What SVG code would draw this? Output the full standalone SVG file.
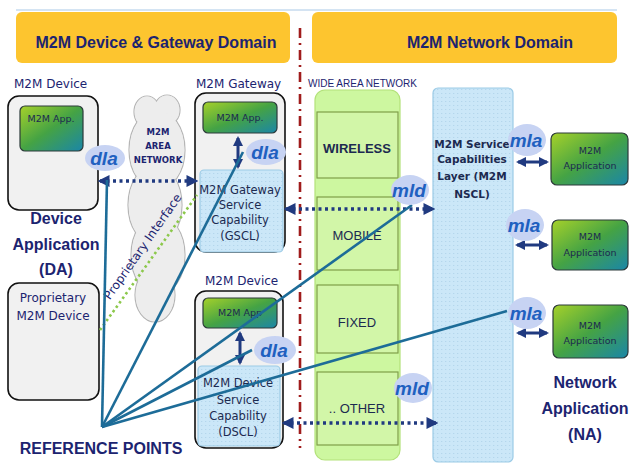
<svg xmlns="http://www.w3.org/2000/svg" width="629" height="463" viewBox="0 0 629 463">
<defs>
<style>
.hdr{fill:#fdc52f}
.ht{font-family:"Liberation Sans",Arial,sans-serif;font-weight:bold;font-size:16px;fill:#1c2470;text-anchor:middle}
.lbl{font-family:"DejaVu Sans",sans-serif;font-size:12px;fill:#1c2470}
.big{font-family:"Liberation Sans",Arial,sans-serif;font-weight:bold;font-size:16px;fill:#1c2470;text-anchor:middle}
.box{fill:#f1f1f1;stroke:#111;stroke-width:1.6}
.app{fill:url(#gApp);stroke:#2c3a3a;stroke-width:1.2}
.appt{font-family:"DejaVu Sans",sans-serif;font-size:9.5px;fill:#1c2a50;text-anchor:middle}
.sc{fill:url(#dots);stroke:#9ccbe6;stroke-width:1.2}
.sct{font-family:"DejaVu Sans",sans-serif;font-size:11.5px;fill:#1c2a50;text-anchor:middle}
.ell{fill:#c7d3f3}
.it{font-family:"Liberation Sans",Arial,sans-serif;font-style:italic;font-weight:bold;font-size:19px;fill:#2060c0;text-anchor:middle}
.wan{fill:#cdf7a0;stroke:#b3e27a;stroke-width:1.2}
.wb{fill:#d2f6a8;stroke:#7f9f48;stroke-width:1.2}
.wt{font-family:"Liberation Sans",Arial,sans-serif;font-size:13px;fill:#1c2a50;text-anchor:middle}
.dot{fill:none;stroke:#203a80;stroke-width:3.5;stroke-dasharray:3 3.5}
.ref{fill:none;stroke:#1d6c98;stroke-width:2.6}
.da{fill:none;stroke:#203a80;stroke-width:3}
</style>
<linearGradient id="gApp" x1="0" y1="0" x2="1" y2="1">
<stop offset="0" stop-color="#a6d12a"/>
<stop offset="0.5" stop-color="#45a344"/>
<stop offset="1" stop-color="#1a86a8"/>
</linearGradient>
<pattern id="dots" width="4" height="4" patternUnits="userSpaceOnUse">
<rect width="4" height="4" fill="#cbe7f8"/>
<rect x="1" y="1" width="1.3" height="1" fill="#b4d6ec"/>
</pattern>
<marker id="ah" viewBox="0 0 10 10" refX="8" refY="5" markerWidth="3.4" markerHeight="3.4" orient="auto-start-reverse" markerUnits="strokeWidth">
<path d="M0,0 L10,5 L0,10 Z" fill="#203a80"/>
</marker>
</defs>
<rect width="629" height="463" fill="#ffffff"/>
<line x1="16" y1="10" x2="617" y2="10" stroke="#a9c8e6" stroke-width="1"/>

<g id="hdr-left">
<rect class="hdr" x="16" y="12" width="274" height="51" rx="6"/>
<text class="ht" x="156" y="48">M2M Device &amp; Gateway Domain</text>
</g>
<g id="hdr-right">
<rect class="hdr" x="312" y="12" width="305" height="51" rx="6"/>
<text class="ht" x="490" y="48">M2M Network Domain</text>
</g>

<line id="divider" x1="300" y1="28" x2="300" y2="448" stroke="#a01c1c" stroke-width="2.6" stroke-dasharray="10 5 2 5"/>

<g id="cloud">
<g fill="#ededed" stroke="#b5b5b5" stroke-width="1.2">
<ellipse cx="147" cy="112" rx="13" ry="16"/>
<ellipse cx="167" cy="110" rx="13" ry="15"/>
<ellipse cx="157" cy="150" rx="28" ry="40"/>
<ellipse cx="155" cy="205" rx="27" ry="40"/>
<ellipse cx="158" cy="255" rx="27" ry="40"/>
<ellipse cx="155" cy="295" rx="20" ry="27"/>
</g>
<g fill="#ededed">
<ellipse cx="147" cy="112" rx="12.4" ry="15.4"/>
<ellipse cx="167" cy="110" rx="12.4" ry="14.4"/>
<ellipse cx="157" cy="150" rx="27.4" ry="39.4"/>
<ellipse cx="155" cy="205" rx="26.4" ry="39.4"/>
<ellipse cx="158" cy="255" rx="26.4" ry="39.4"/>
<ellipse cx="155" cy="295" rx="19.4" ry="26.4"/>
</g>
<g font-family="DejaVu Sans,sans-serif" font-weight="bold" font-size="8.5" fill="#1c2470" text-anchor="middle">
<text x="158" y="135">M2M</text>
<text x="158" y="149">AREA</text>
<text x="158" y="163">NETWORK</text>
</g>
</g>

<g id="device-top">
<text class="lbl" x="14" y="88">M2M Device</text>
<rect class="box" x="8" y="96" width="90" height="114" rx="11"/>
<rect class="app" x="20" y="106" width="63" height="45" rx="5"/>
<text class="appt" x="51" y="122">M2M App.</text>
<ellipse class="ell" cx="105" cy="158" rx="20" ry="13"/>
<text class="it" x="104" y="165">dla</text>
</g>

<g id="device-app-label">
<text class="big" x="56" y="224">Device</text>
<text class="big" x="56" y="250">Application</text>
<text class="big" x="56" y="275">(DA)</text>
</g>

<g id="proprietary-device">
<rect class="box" x="8" y="283" width="91" height="117" rx="11"/>
<text class="lbl" x="53" y="302" text-anchor="middle">Proprietary</text>
<text class="lbl" x="53" y="320" text-anchor="middle">M2M Device</text>
</g>

<g id="gateway">
<text class="lbl" x="196" y="88">M2M Gateway</text>
<rect class="box" x="195" y="93" width="90" height="159" rx="11"/>
<rect class="app" x="203" y="102" width="74" height="31" rx="5"/>
<text class="appt" x="240" y="121">M2M App.</text>
<rect class="sc" x="200" y="170" width="83" height="82" rx="4"/>
<text class="sct" x="240" y="194">M2M Gateway</text>
<text class="sct" x="240" y="209">Service</text>
<text class="sct" x="240" y="224">Capability</text>
<text class="sct" x="240" y="240">(GSCL)</text>
<ellipse class="ell" cx="266" cy="152" rx="20" ry="13"/>
<text class="it" x="265" y="159">dla</text>
</g>

<g id="device-bottom">
<text class="lbl" x="205" y="285">M2M Device</text>
<rect class="box" x="195" y="291" width="88" height="157" rx="11"/>
<rect class="app" x="203" y="298" width="74" height="30" rx="5"/>
<text class="appt" x="240" y="316">M2M App</text>
<rect class="sc" x="198" y="366" width="82" height="80" rx="4"/>
<text class="sct" x="238" y="387">M2M Device</text>
<text class="sct" x="238" y="404">Service</text>
<text class="sct" x="238" y="420">Capability</text>
<text class="sct" x="238" y="436">(DSCL)</text>
<ellipse class="ell" cx="275" cy="350" rx="21" ry="14"/>
<text class="it" x="274" y="357">dla</text>
</g>

<g id="wan">
<text x="308" y="87" font-family="Liberation Sans,Arial,sans-serif" font-size="10" fill="#1c2470" textLength="109" lengthAdjust="spacingAndGlyphs">WIDE AREA NETWORK</text>
<rect class="wan" x="315" y="90" width="85" height="370" rx="10"/>
<rect class="wb" x="317" y="112" width="81" height="66"/>
<text class="wt" x="357" y="153" font-weight="bold">WIRELESS</text>
<rect class="wb" x="317" y="197" width="81" height="73"/>
<text class="wt" x="357" y="240">MOBILE</text>
<rect class="wb" x="317" y="285" width="81" height="68"/>
<text class="wt" x="357" y="327">FIXED</text>
<rect class="wb" x="317" y="372" width="81" height="73"/>
<text class="wt" x="357" y="413">.. OTHER</text>
</g>

<g id="nscl">
<rect class="sc" x="433" y="88" width="80" height="374" rx="5" stroke="#8fbcd8"/>
<g font-family="DejaVu Sans,sans-serif" font-weight="bold" font-size="10.5" fill="#1c2a50" text-anchor="middle">
<text x="472" y="148">M2M Service</text>
<text x="472" y="163">Capabilities</text>
<text x="472" y="180">Layer (M2M</text>
<text x="472" y="198">NSCL)</text>
</g>
</g>

<g id="na1">
<rect class="app" x="551" y="133" width="77" height="52" rx="6"/>
<text class="appt" x="590" y="154">M2M</text>
<text class="appt" x="590" y="169">Application</text>
</g>
<g id="na2">
<rect class="app" x="552" y="220" width="76" height="50" rx="6"/>
<text class="appt" x="590" y="240">M2M</text>
<text class="appt" x="590" y="256">Application</text>
</g>
<g id="na3">
<rect class="app" x="553" y="305" width="75" height="53" rx="6"/>
<text class="appt" x="590" y="329">M2M</text>
<text class="appt" x="590" y="344">Application</text>
</g>
<g id="na-label">
<text class="big" x="585" y="388">Network</text>
<text class="big" x="585" y="414">Application</text>
<text class="big" x="585" y="440">(NA)</text>
</g>

<g id="connectors">
<line class="dot" x1="100" y1="181" x2="196" y2="181" marker-start="url(#ah)" marker-end="url(#ah)"/>
<line class="dot" x1="286" y1="209" x2="433" y2="209" marker-start="url(#ah)" marker-end="url(#ah)"/>
<line class="dot" x1="284" y1="423" x2="436" y2="423" marker-start="url(#ah)" marker-end="url(#ah)"/>
<line class="da" x1="238" y1="138" x2="238" y2="167" marker-start="url(#ah)" marker-end="url(#ah)"/>
<line class="da" x1="240" y1="333" x2="240" y2="363" marker-start="url(#ah)" marker-end="url(#ah)"/>
<line class="da" x1="518" y1="162" x2="547" y2="162" marker-start="url(#ah)" marker-end="url(#ah)"/>
<line class="da" x1="517" y1="245" x2="547" y2="245" marker-start="url(#ah)" marker-end="url(#ah)"/>
<line class="da" x1="518" y1="333" x2="547" y2="333" marker-start="url(#ah)" marker-end="url(#ah)"/>
<line x1="100" y1="330" x2="197" y2="195" stroke="#8cc84b" stroke-width="2.6" stroke-dasharray="2.5 3"/>
<text x="146" y="249" font-family="DejaVu Sans,sans-serif" font-size="12" fill="#1c2470" text-anchor="middle" transform="rotate(-55 146 249)" textLength="126" lengthAdjust="spacingAndGlyphs">Proprietary Interface</text>
<line class="ref" x1="102" y1="427" x2="107" y2="180"/>
<line class="ref" x1="102" y1="427" x2="243" y2="152"/>
<line class="ref" x1="102" y1="427" x2="412" y2="205"/>
<line class="ref" x1="102" y1="427" x2="252" y2="350"/>
<line class="ref" x1="102" y1="427" x2="507" y2="311"/>
</g>

<g id="labels-ref">
<ellipse class="ell" cx="410" cy="190" rx="19" ry="15"/>
<text class="it" x="409" y="197">mld</text>
<ellipse class="ell" cx="413" cy="388" rx="19" ry="15"/>
<text class="it" x="412" y="395">mld</text>
<ellipse class="ell" cx="527" cy="140" rx="19" ry="16"/>
<text class="it" x="526" y="147">mla</text>
<ellipse class="ell" cx="525" cy="225" rx="19" ry="16"/>
<text class="it" x="524" y="232">mla</text>
<ellipse class="ell" cx="527" cy="313" rx="19" ry="16"/>
<text class="it" x="526" y="320">mla</text>
<text class="big" x="101" y="454" font-size="15">REFERENCE POINTS</text>
</g>
</svg>
